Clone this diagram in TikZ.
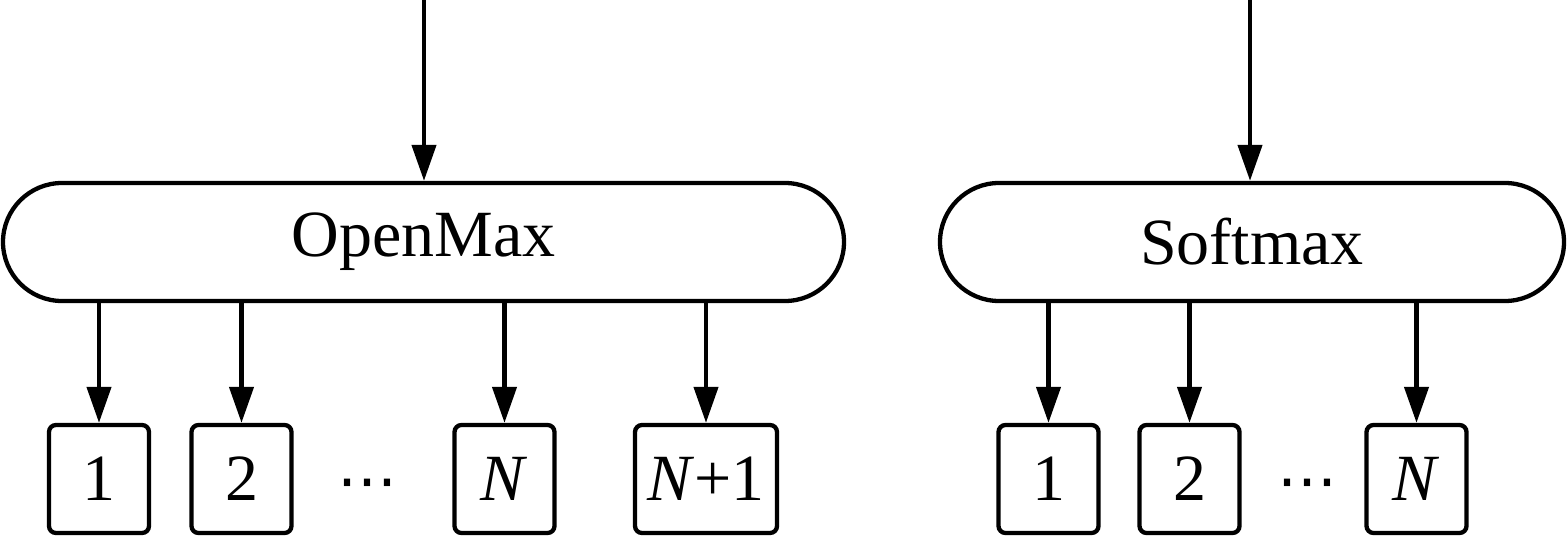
\documentclass[tikz,border=0pt]{standalone}
\usepackage{fontspec}
\setmainfont{Liberation Serif}
\newfontfamily\dotsfont{DejaVu Sans}
\usetikzlibrary{arrows.meta}
\begin{document}
\begin{tikzpicture}[x=1pt,y=-1pt,
  every node/.style={font=\fontsize{66pt}{70pt}\selectfont, inner sep=0pt},
  pill/.style={draw, line width=4.3pt, rounded corners=59pt, minimum height=118pt},
  outbox/.style={draw, line width=4.3pt, rounded corners=7pt, minimum height=108pt, minimum width=100pt},
  arr/.style={line width=4.3pt, -{Triangle[length=36pt,width=24pt]}},
  dots/.style={font=\dotsfont\fontsize{60pt}{62pt}\selectfont}]
\useasboundingbox (0,0) rectangle (1568,537);
% OpenMax part
\node[pill, minimum width=841pt] (om) at (423.5,242) {OpenMax};
\coordinate (omin) at (424,0);
\draw[arr] (omin) -- (omin |- om.north);
\node[outbox] (a1) at (99,479) {1};
\node[outbox] (a2) at (241.5,479) {2};
\node[dots] (ad) at (367,490) {⋯};
\node[outbox] (aN) at (504.5,479) {\textit{N}};
\node[outbox, minimum width=142pt] (aN1) at (706,479) {\textit{N}+1};
\foreach \b in {a1,a2,aN,aN1}
  \draw[arr] (om.south -| \b.north) -- (\b.north);
% Softmax part
\node[pill, minimum width=624pt] (sm) at (1252,242) {Softmax};
\coordinate (smin) at (1250,0);
\draw[arr] (smin) -- (smin |- sm.north);
\node[outbox] (b1) at (1048.5,479) {1};
\node[outbox] (b2) at (1189.5,479) {2};
\node[dots] (bd) at (1307,490) {⋯};
\node[outbox] (bN) at (1416.5,479) {\textit{N}};
\foreach \b in {b1,b2,bN}
  \draw[arr] (sm.south -| \b.north) -- (\b.north);
\end{tikzpicture}
\end{document}
